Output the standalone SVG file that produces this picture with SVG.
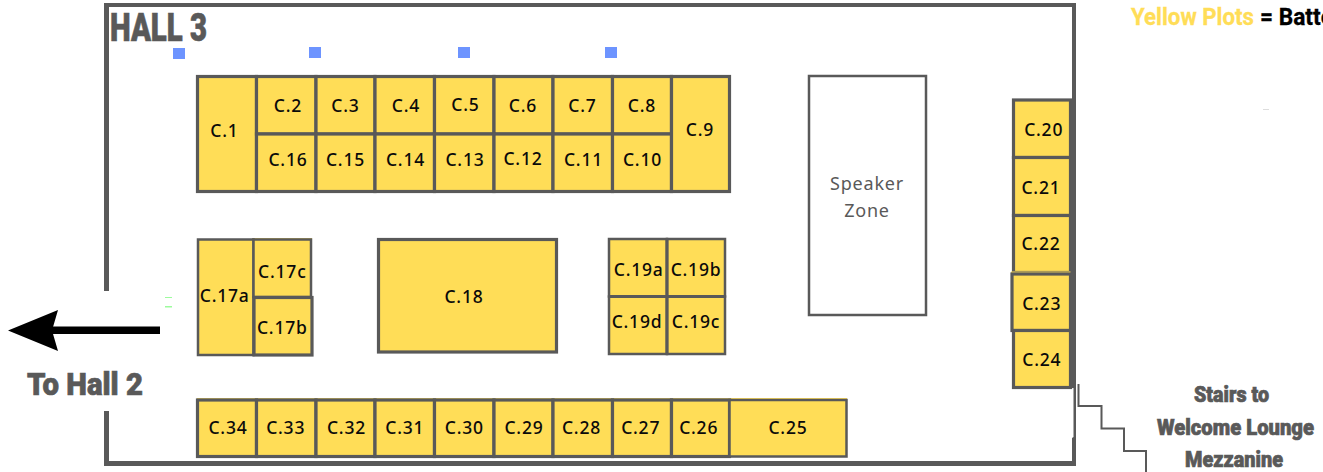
<svg xmlns="http://www.w3.org/2000/svg" width="1323" height="472" viewBox="0 0 1323 472">
<style>
.plot{fill:#ffdd57;stroke:#595959;stroke-width:3.2}
.lab{font-family:"Noto Sans","Open Sans",sans-serif;font-size:17.5px;font-weight:500;letter-spacing:.8px;fill:#0a0a0a;text-anchor:middle}
.wall{fill:#595959}
.head{font-family:Roboto,"Liberation Sans",sans-serif;font-weight:900;fill:#595959;stroke:#595959;stroke-width:.7}
.sliver{fill:#ffdd57}
.cond{font-family:Roboto,sans-serif;font-weight:700;font-size:23px;stroke-width:.3}
</style>
<rect width="1323" height="472" fill="#fff"/>
<g id="hall">
<path class="wall" d="M104 3H1076V99H1072V7H109V291H104ZM104 411H109V461H1072V438L1073.5 437V388H1076V466H104Z"/>
<text class="head" x="110" y="41" font-size="39" textLength="97" lengthAdjust="spacingAndGlyphs">HALL 3</text>
</g>
<g id="markers" fill="#6d94ff">
<rect x="173" y="48" width="12" height="11"/><rect x="309" y="47" width="12" height="11"/><rect x="458" y="47" width="12" height="11"/><rect x="605" y="47" width="12" height="11"/>
<rect x="165" y="297" width="7" height="1" fill="#9dfb9d"/><rect x="165" y="306" width="7" height="1.5" fill="#9dfb9d"/>
<rect x="1263" y="109" width="6" height="1" fill="#dddddd"/>
</g>
<g id="slivers">
<rect class="sliver" x="197" y="75" width="60" height="2"/><rect class="sliver" x="671" y="75" width="60" height="2"/>
<rect class="sliver" x="252" y="238" width="60" height="2"/><rect class="sliver" x="197" y="398" width="650" height="2"/>
</g>
<g id="C1"><rect class="plot" x="197.5" y="76.5" width="59" height="115"/><text class="lab" x="224.5" y="136.5">C.1</text></g>
<g id="C2"><rect class="plot" x="256.5" y="76.5" width="59.5" height="57.5"/><text class="lab" x="288" y="111.5">C.2</text></g>
<g id="C3"><rect class="plot" x="316" y="76.5" width="59" height="57.5"/><text class="lab" x="345.5" y="111.5">C.3</text></g>
<g id="C4"><rect class="plot" x="375" y="76.5" width="59.5" height="57.5"/><text class="lab" x="406" y="111.5">C.4</text></g>
<g id="C5"><rect class="plot" x="434.5" y="76.5" width="59.5" height="57.5"/><text class="lab" x="465.5" y="111">C.5</text></g>
<g id="C6"><rect class="plot" x="494" y="76.5" width="59" height="57.5"/><text class="lab" x="523" y="112">C.6</text></g>
<g id="C7"><rect class="plot" x="553" y="76.5" width="59.5" height="57.5"/><text class="lab" x="582.5" y="112">C.7</text></g>
<g id="C8"><rect class="plot" x="612.5" y="76.5" width="59" height="57.5"/><text class="lab" x="642" y="112">C.8</text></g>
<g id="C16"><rect class="plot" x="256.5" y="134" width="59.5" height="57.5"/><text class="lab" x="288" y="165.5">C.16</text></g>
<g id="C15"><rect class="plot" x="316" y="134" width="59" height="57.5"/><text class="lab" x="345.5" y="165.5">C.15</text></g>
<g id="C14"><rect class="plot" x="375" y="134" width="59.5" height="57.5"/><text class="lab" x="405.5" y="165.5">C.14</text></g>
<g id="C13"><rect class="plot" x="434.5" y="134" width="59.5" height="57.5"/><text class="lab" x="465" y="166">C.13</text></g>
<g id="C12"><rect class="plot" x="494" y="134" width="59" height="57.5"/><text class="lab" x="523" y="164.5">C.12</text></g>
<g id="C11"><rect class="plot" x="553" y="134" width="59.5" height="57.5"/><text class="lab" x="583.5" y="166">C.11</text></g>
<g id="C10"><rect class="plot" x="612.5" y="134" width="59" height="57.5"/><text class="lab" x="642.5" y="166">C.10</text></g>
<g id="C9"><rect class="plot" x="671.5" y="76.5" width="58" height="115"/><text class="lab" x="700" y="136">C.9</text></g>
<g id="C17a"><rect class="plot" x="198" y="239.5" width="55.5" height="115.5" style="stroke-width:2.5"/><text class="lab" x="224.7" y="302">C.17a</text></g>
<g id="C17c"><rect class="plot" x="253.5" y="239.5" width="57.5" height="57.5" style="stroke-width:2.5"/><text class="lab" x="282.3" y="277.5">C.17c</text></g>
<g id="C17b"><rect class="plot" x="254" y="297.5" width="58" height="57.5"/><text class="lab" x="282.3" y="333.5">C.17b</text></g>
<g id="C18"><rect class="plot" x="378.5" y="239.5" width="178" height="112.5"/><text class="lab" x="464" y="303">C.18</text></g>
<g id="C19a"><rect class="plot" x="609" y="239" width="58" height="57.5" style="stroke-width:2.5"/></g>
<g id="C19b"><rect class="plot" x="667" y="239" width="58" height="57.5" style="stroke-width:2.5"/></g>
<g id="C19d"><rect class="plot" x="609" y="296.5" width="58" height="57.5" style="stroke-width:2.5"/></g>
<g id="C19c"><rect class="plot" x="667" y="296.5" width="58" height="57.5" style="stroke-width:2.5"/></g>
<rect class="wall" x="665.5" y="239" width="3" height="115"/><rect class="wall" x="609" y="295" width="116" height="3"/>
<text class="lab" x="638.7" y="275.5">C.19a</text><text class="lab" x="696" y="275.5">C.19b</text><text class="lab" x="637" y="328">C.19d</text><text class="lab" x="696" y="328">C.19c</text>
<g id="speaker"><rect x="809" y="76" width="117" height="239" fill="#fff" stroke="#595959" stroke-width="2.5"/>
<text x="867" y="190" font-family="Noto Sans,Open Sans,sans-serif" font-size="18" letter-spacing=".8" fill="#595959" text-anchor="middle">Speaker</text>
<text x="867" y="217" font-family="Noto Sans,Open Sans,sans-serif" font-size="18" letter-spacing=".8" fill="#595959" text-anchor="middle">Zone</text></g>
<g id="C34"><rect class="plot" x="197.5" y="400" width="59" height="56.5"/><text class="lab" x="228" y="434">C.34</text></g>
<g id="C33"><rect class="plot" x="256.5" y="400" width="59.5" height="56.5"/><text class="lab" x="285.7" y="434">C.33</text></g>
<g id="C32"><rect class="plot" x="316" y="400" width="59" height="56.5"/><text class="lab" x="346.5" y="434">C.32</text></g>
<g id="C31"><rect class="plot" x="375" y="400" width="59.5" height="56.5"/><text class="lab" x="404.8" y="434">C.31</text></g>
<g id="C30"><rect class="plot" x="434.5" y="400" width="59.5" height="56.5"/><text class="lab" x="464.3" y="434">C.30</text></g>
<g id="C29"><rect class="plot" x="494" y="400" width="59" height="56.5"/><text class="lab" x="524" y="434">C.29</text></g>
<g id="C28"><rect class="plot" x="553" y="400" width="59.5" height="56.5"/><text class="lab" x="581.5" y="434">C.28</text></g>
<g id="C27"><rect class="plot" x="612.5" y="400" width="59" height="56.5"/><text class="lab" x="640.7" y="434">C.27</text></g>
<g id="C26"><rect class="plot" x="671.5" y="400" width="58" height="56.5"/><text class="lab" x="698.7" y="434">C.26</text></g>
<g id="C25"><rect class="plot" x="729.5" y="400" width="117" height="56.5" style="stroke-width:2.5"/><text class="lab" x="788" y="434">C.25</text></g>
<g id="C20"><rect class="plot" x="1013.5" y="100" width="57" height="57.5"/><text class="lab" x="1043.7" y="136">C.20</text></g>
<g id="C21"><rect class="plot" x="1013.5" y="157.5" width="57" height="58"/><text class="lab" x="1041" y="194">C.21</text></g>
<g id="C22"><rect class="plot" x="1013.5" y="215.5" width="57" height="57"/><text class="lab" x="1041" y="250">C.22</text></g>
<rect class="sliver" x="1011" y="271.5" width="60" height="1.5"/>
<g id="C23"><rect class="plot" x="1012" y="274" width="58.5" height="56.5"/><text class="lab" x="1041.7" y="309.5">C.23</text></g>
<g id="C24"><rect class="plot" x="1013.5" y="330.5" width="57" height="57"/><text class="lab" x="1041.8" y="366">C.24</text></g>
<rect class="wall" x="1070.5" y="99" width="5.5" height="289"/>
<g id="connectors">
<path d="M8 330.5L58 310L52 330.5L58 351Z" fill="#000"/><rect x="50" y="326.5" width="110" height="7.5" fill="#000"/>
<path d="M1078.5 384V406H1101.5V428.5H1124V451H1146V472" fill="none" stroke="#595959" stroke-width="2"/>
</g>
<g id="labels">
<text class="head" x="27" y="395" font-size="31" textLength="116" lengthAdjust="spacingAndGlyphs">To Hall 2</text>
<text class="head" x="1194" y="402" font-size="22" textLength="75" lengthAdjust="spacingAndGlyphs">Stairs to</text>
<text class="head" x="1157" y="435" font-size="22" textLength="157" lengthAdjust="spacingAndGlyphs">Welcome Lounge</text>
<text class="head" x="1185" y="467" font-size="22" textLength="98" lengthAdjust="spacingAndGlyphs">Mezzanine</text>
<text class="cond" x="1131" y="25" fill="#ffdd57" stroke="#ffdd57" textLength="123" lengthAdjust="spacingAndGlyphs">Yellow Plots</text>
<text class="cond" x="1260" y="25" fill="#000" stroke="#000" textLength="73" lengthAdjust="spacingAndGlyphs">= Batte</text>
</g>
</svg>
